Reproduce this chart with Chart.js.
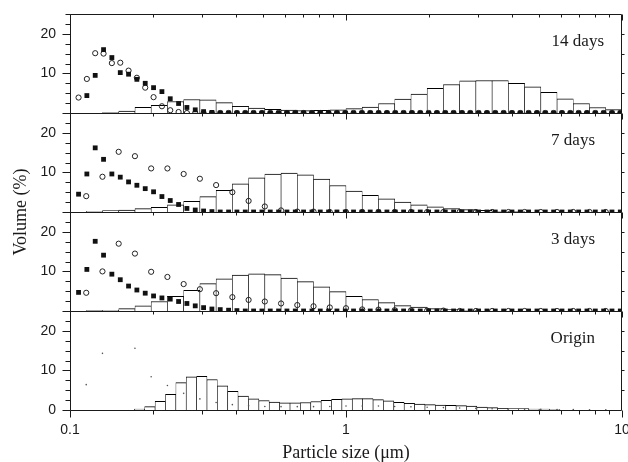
<!DOCTYPE html>
<html>
<head>
<meta charset="utf-8">
<script src="https://cdn.jsdelivr.net/npm/chart.js@4.4.1/dist/chart.umd.min.js"></script>
<style>
  html, body { margin: 0; padding: 0; background: #fff; }
</style>
</head>
<body>
<canvas id="psd" width="628" height="462"></canvas>
<script>
// histogram bins for 3/7/14 days (17 per decade, centres in um)
const binSizes = [0.1070, 0.1225, 0.1403, 0.1607, 0.1840, 0.2106, 0.2412, 0.2762, 0.3162, 0.3621,
  0.4146, 0.4748, 0.5436, 0.6225, 0.7128, 0.8162, 0.9346, 1.070, 1.225, 1.403,
  1.607, 1.840, 2.106, 2.412, 2.762, 3.162, 3.621, 4.146, 4.748, 5.436,
  6.225, 7.128, 8.162, 9.345];
const bars14 = [0, 0, 0.1, 0.5, 1.45, 1.95, 2.9, 3.4, 3.3, 2.6,
  1.7, 1.25, 0.95, 0.75, 0.6, 0.7, 0.8, 1.1, 1.5, 2.4,
  3.5, 4.8, 6.2, 7.2, 8.1, 8.2, 8.2, 7.5, 6.6, 5.2,
  3.6, 2.4, 1.4, 0.85];
const bars7 = [0, 0.15, 0.35, 0.5, 0.85, 1.2, 1.8, 2.7, 3.9, 5.5,
  7.1, 8.6, 9.6, 9.8, 9.4, 8.3, 6.7, 5.3, 4.2, 3.3,
  2.5, 1.8, 1.3, 0.85, 0.6, 0.4, 0.2, 0.1, 0, 0,
  0, 0, 0, 0];
const bars3 = [0, 0.1, 0.2, 0.6, 1.3, 2.4, 3.7, 5.2, 6.9, 8.1,
  9.1, 9.4, 9.2, 8.3, 7.4, 6.1, 4.9, 3.7, 2.9, 2.1,
  1.35, 1.0, 0.6, 0.35, 0.2, 0, 0, 0, 0, 0,
  0, 0, 0, 0];

// origin sample has its own, finer bins
const originSizes = [0.1786, 0.1947, 0.2124, 0.2316, 0.2525, 0.2754, 0.3003, 0.3274, 0.3570, 0.3893,
  0.4246, 0.4630, 0.5048, 0.5505, 0.6003, 0.6546, 0.7138, 0.7784, 0.8488, 0.9256,
  1.009, 1.101, 1.200, 1.309, 1.427, 1.556, 1.697, 1.851, 2.018, 2.201,
  2.400, 2.617, 2.853, 3.112, 3.393, 3.700, 4.035, 4.400, 4.798, 5.232,
  5.705];
const barsOrigin = [0.25, 0.84, 2.2, 3.97, 6.9, 8.4, 8.5, 7.7, 6.1, 4.7,
  3.5, 2.8, 2.4, 2.0, 1.8, 1.8, 1.9, 2.15, 2.45, 2.7,
  2.8, 2.87, 2.87, 2.6, 2.3, 1.94, 1.7, 1.5, 1.35, 1.27,
  1.2, 1.1, 1.0, 0.76, 0.6, 0.42, 0.34, 0.34, 0.25, 0.25,
  0.17];

// filled squares (and 14 day circles) sit on a 33 per decade grid
const squareSizes = [0.1074, 0.1151, 0.1234, 0.1323, 0.1418, 0.1521, 0.1630, 0.1747, 0.1873, 0.2008,
  0.2153, 0.2308, 0.2474, 0.2652, 0.2843, 0.3048, 0.3267, 0.3502, 0.3755, 0.4025,
  0.4315, 0.4626, 0.4959, 0.5316, 0.5698, 0.6109, 0.6549, 0.7020, 0.7526, 0.8068,
  0.8648, 0.9271, 0.9939, 1.065, 1.142, 1.224, 1.313, 1.407, 1.508, 1.617,
  1.733, 1.858, 1.992, 2.135, 2.289, 2.454, 2.631, 2.820, 3.023, 3.241,
  3.474, 3.725, 3.993, 4.280, 4.588, 4.919, 5.273, 5.653, 6.060, 6.496,
  6.964, 7.465, 8.003, 8.579, 9.197, 9.859];
const squares14 = [null, 4.4, 9.5, 16.0, 14.0, 10.2, 9.8, 8.5, 7.5, 6.4,
  5.4, 3.6, 2.4, 1.4, 0.8, 0.35, 0.15, 0, 0, 0,
  0, 0, 0, 0, 0, 0, 0, 0, 0, 0,
  0, 0, 0, 0, 0, 0, 0, 0, 0, 0,
  0, 0, 0, 0, 0, 0, 0, 0, 0, 0,
  0, 0, 0, 0, 0, 0, 0, 0, 0, 0,
  0, 0, 0, 0, 0, 0];
const circles14 = [3.9, 8.6, 15.1, 15.0, 12.6, 12.7, 10.7, 8.9, 6.4, 4.0,
  1.7, 0.7, 0.25, 0, 0, 0, 0, 0, 0, 0,
  0, 0, 0, 0, 0, 0, 0, 0, 0, 0,
  0, 0, 0, 0, 0, 0, 0, 0, 0, 0,
  0, 0, 0, 0, 0, 0, 0, 0, 0, 0,
  0, 0, 0, 0, 0, 0, 0, 0, 0, 0,
  0, 0, 0, 0, 0, 0];
const squares7 = [4.5, 9.6, 16.2, 13.3, 9.6, 8.8, 7.6, 6.75, 5.9, 5.1,
  3.9, 2.9, 1.9, 0.9, 0.5, 0.25, 0.1, 0, 0, 0,
  0, 0, 0, 0, 0, 0, 0, 0, 0, 0,
  0, 0, 0, 0, 0, 0, 0, 0, 0, 0,
  0, 0, 0, 0, 0, 0, 0, 0, 0, 0,
  0, 0, 0, 0, 0, 0, 0, 0, 0, 0,
  0, 0, 0, 0, 0, 0];
const squares3 = [4.7, 10.5, 17.6, 14.1, 9.3, 7.9, 6.3, 5.3, 4.5, 3.8,
  3.3, 3.0, 2.4, 1.9, 1.3, 0.85, 0.5, 0.35, 0.2, 0.1,
  0, 0, 0, 0, 0, 0, 0, 0, 0, 0,
  0, 0, 0, 0, 0, 0, 0, 0, 0, 0,
  0, 0, 0, 0, 0, 0, 0, 0, 0, 0,
  0, 0, 0, 0, 0, 0, 0, 0, 0, 0,
  0, 0, 0, 0, 0, 0];

// open circles for 3 and 7 days (and the origin dots) sit on the bin edges
const edgeSizes = [0.1145, 0.1311, 0.1501, 0.1719, 0.1968, 0.2254, 0.2581, 0.2955, 0.3384, 0.3875,
  0.4437, 0.5080, 0.5817, 0.6661, 0.7627, 0.8734, 1.000, 1.145, 1.311, 1.501,
  1.719, 1.968, 2.254, 2.581, 2.955, 3.384, 3.875, 4.437, 5.080, 5.817,
  6.661, 7.627, 8.734];
const circles7 = [4.0, 8.9, 15.2, 14.1, 11.0, 11.0, 9.6, 8.4, 6.8, 5.0,
  2.8, 1.4, 0.4, 0.1, 0.1, 0, 0, 0, 0, 0,
  0, 0, 0, 0, 0, 0, 0, 0, 0, 0,
  0, 0, 0];
const circles3 = [4.6, 10.0, 17.0, 14.5, 9.9, 8.6, 6.8, 5.5, 4.5, 3.5,
  2.8, 2.4, 1.9, 1.5, 1.2, 0.9, 0.7, 0.4, 0.35, 0.2,
  0.15, 0.1, 0.1, 0, 0, 0, 0, 0, 0, 0,
  0, 0, 0];
const dotsOrigin = [6.4, 14.3, null, 15.6, 8.4, 6.2, 4.2, 2.8, 1.9, 1.35,
  1.1, 0.9, 0.85, 0.85, 0.85, 0.9, 1.0, 1.0, 1.0, 0.9,
  0.8, 0.7, 0.6, 0.5, 0.4, 0.3, 0.25, 0.2, 0.15, 0.1,
  0.1, 0.05, 0.05];

const xTicks = [0.1, 0.2, 0.3, 0.4, 0.5, 0.6, 0.7, 0.8, 0.9, 1, 2, 3, 4, 5, 6, 7, 8, 9, 10];
const xLabels = { 0.1: '0.1', 1: '1', 10: '10' };
const yTicks = [0, 2.5, 5, 7.5, 10, 12.5, 15, 17.5, 20, 22.5, 25];
const yLabels = [10, 20];
const panelNames = ['14 days', '7 days', '3 days', 'Origin'];
const panelIds = ['y14', 'y7', 'y3', 'y0'];

const pairs = (xs, ys) => xs.map((x, i) => ({ x: x, y: ys[i] }));

const ink = '#1a1a1a';
const serif = '"Liberation Serif", "Times New Roman", serif';
const sans = '"Liberation Sans", Arial, sans-serif';

function histo(sizes, values, xId, yId) {
    return {
        type: 'bar', data: pairs(sizes, values), xAxisID: xId, yAxisID: yId,
        backgroundColor: '#fff', borderColor: '#000',
        borderWidth: { top: 1, left: 0.6, right: 0.6, bottom: 0 }, borderSkipped: false,
        barPercentage: 1, categoryPercentage: 1, grouped: false, order: 2
    };
}
function squares(values, yId) {
    return {
        type: 'scatter', data: pairs(squareSizes, values), xAxisID: 'x', yAxisID: yId,
        pointStyle: 'rect', pointRadius: 3.4, backgroundColor: '#111', borderWidth: 0, order: 1
    };
}
function circles(sizes, values, yId) {
    return {
        type: 'scatter', data: pairs(sizes, values), xAxisID: 'x', yAxisID: yId,
        pointStyle: 'circle', pointRadius: 2.6, backgroundColor: 'rgba(0,0,0,0)',
        borderColor: '#222', borderWidth: 1, order: 1
    };
}

function panelAxis(withZero) {
    return {
        type: 'linear', position: 'left', stack: 'panels', stackWeight: 1,
        min: 0, max: 25,
        afterBuildTicks: (s) => { s.ticks = yTicks.map(v => ({ value: v })); },
        afterFit: (s) => { s.width = 70; s.paddingTop = 0; s.paddingBottom = 0; },
        grid: { display: false, drawTicks: false },
        border: { display: false },
        ticks: {
            autoSkip: false, padding: 14, color: ink, font: { family: sans, size: 14 },
            callback: (v) => (yLabels.includes(v) || (withZero && v === 0)) ? String(v) : ''
        }
    };
}
function hiddenLogAxis() {
    return {
        type: 'logarithmic', position: 'bottom', min: 0.1, max: 10, display: false,
        afterBuildTicks: (s) => { s.ticks = [{ value: 0.1 }, { value: 10 }]; }
    };
}

// frame, tick marks, panel names; also clips each dataset to its own panel
const panelFrame = {
    id: 'panelFrame',
    beforeDatasetDraw(chart, args) {
        const ys = args.meta.yScale;
        const area = chart.chartArea;
        chart.ctx.save();
        chart.ctx.beginPath();
        chart.ctx.rect(area.left, ys.top, area.right - area.left, ys.bottom - ys.top);
        chart.ctx.clip();
    },
    afterDatasetDraw(chart) {
        chart.ctx.restore();
    },
    afterDraw(chart) {
        const ctx = chart.ctx;
        const area = chart.chartArea;
        const xs = chart.scales.x;
        const L = Math.round(area.left) + 0.5;
        const R = Math.round(area.right) - 0.5;
        ctx.save();
        ctx.strokeStyle = ink;
        ctx.lineWidth = 1;
        ctx.beginPath();
        panelIds.forEach((id, i) => {
            const s = chart.scales[id];
            const T = Math.round(s.top) + 0.5;
            const B = Math.round(s.bottom) + 0.5;
            ctx.moveTo(L, T); ctx.lineTo(R, T); ctx.lineTo(R, B); ctx.lineTo(L, B); ctx.closePath();
            s.ticks.forEach(t => {
                const y = Math.round(s.getPixelForValue(t.value)) + 0.5;
                const len = t.value % 10 === 0 ? 8 : 5;
                ctx.moveTo(L - len, y); ctx.lineTo(L, y);
                if (t.value % 5 === 0 && t.value > 0 && t.value < 25) {
                    ctx.moveTo(R, y); ctx.lineTo(R + 3, y);
                }
            });
            xTicks.forEach(v => {
                const px = Math.round(xs.getPixelForValue(v)) + 0.5;
                const major = v in xLabels;
                ctx.moveTo(px, T); ctx.lineTo(px, T + (major ? 6 : 3));
                if (i === panelIds.length - 1) {
                    ctx.moveTo(px, B); ctx.lineTo(px, B + (major ? 7 : 4));
                }
            });
        });
        ctx.stroke();

        ctx.fillStyle = ink;
        ctx.font = '17px ' + serif;
        ctx.textAlign = 'right';
        ctx.textBaseline = 'alphabetic';
        panelIds.forEach((id, i) => {
            const s = chart.scales[id];
            ctx.fillText(panelNames[i], area.right - (i === 0 ? 18 : 27), s.top + 32);
        });

        ctx.font = '18px ' + serif;
        ctx.textAlign = 'center';
        ctx.textBaseline = 'middle';
        ctx.translate(21, (area.top + area.bottom) / 2);
        ctx.rotate(-Math.PI / 2);
        ctx.fillText('Volume (%)', 0, 0);
        ctx.restore();
    }
};

new Chart(document.getElementById('psd'), {
    type: 'bar',
    data: {
        datasets: [
            histo(binSizes, bars14, 'xb', 'y14'),
            histo(binSizes, bars7, 'xb', 'y7'),
            histo(binSizes, bars3, 'xb', 'y3'),
            histo(originSizes, barsOrigin, 'xo', 'y0'),
            squares(squares14, 'y14'),
            circles(squareSizes, circles14, 'y14'),
            squares(squares7, 'y7'),
            circles(edgeSizes, circles7, 'y7'),
            squares(squares3, 'y3'),
            circles(edgeSizes, circles3, 'y3'),
            {
                type: 'scatter', data: pairs(edgeSizes, dotsOrigin), xAxisID: 'x', yAxisID: 'y0',
                pointStyle: 'circle', pointRadius: 0.8, backgroundColor: '#555', borderWidth: 0, order: 1
            }
        ]
    },
    options: {
        responsive: false,
        animation: false,
        events: [],
        layout: { padding: { top: 14, right: 6, bottom: 0, left: 0 } },
        plugins: { legend: { display: false }, tooltip: { enabled: false } },
        scales: {
            x: {
                type: 'logarithmic', position: 'bottom', min: 0.1, max: 10,
                afterBuildTicks: (s) => { s.ticks = xTicks.map(v => ({ value: v })); },
                afterFit: (s) => { s.height = 52; s.paddingLeft = 0; s.paddingRight = 0; },
                grid: { display: false, drawTicks: false },
                border: { display: false },
                ticks: {
                    autoSkip: false, maxRotation: 0, padding: 12, color: ink,
                    font: { family: sans, size: 14 },
                    callback: (v) => xLabels[v] || ''
                },
                title: {
                    display: true, text: 'Particle size (μm)', color: ink,
                    font: { family: serif, size: 18, lineHeight: 1 },
                    padding: { top: 0, bottom: 0 }
                }
            },
            xb: hiddenLogAxis(),
            xo: hiddenLogAxis(),
            y0: panelAxis(true),
            y3: panelAxis(false),
            y7: panelAxis(false),
            y14: panelAxis(false)
        }
    },
    plugins: [panelFrame]
});
</script>
</body>
</html>
